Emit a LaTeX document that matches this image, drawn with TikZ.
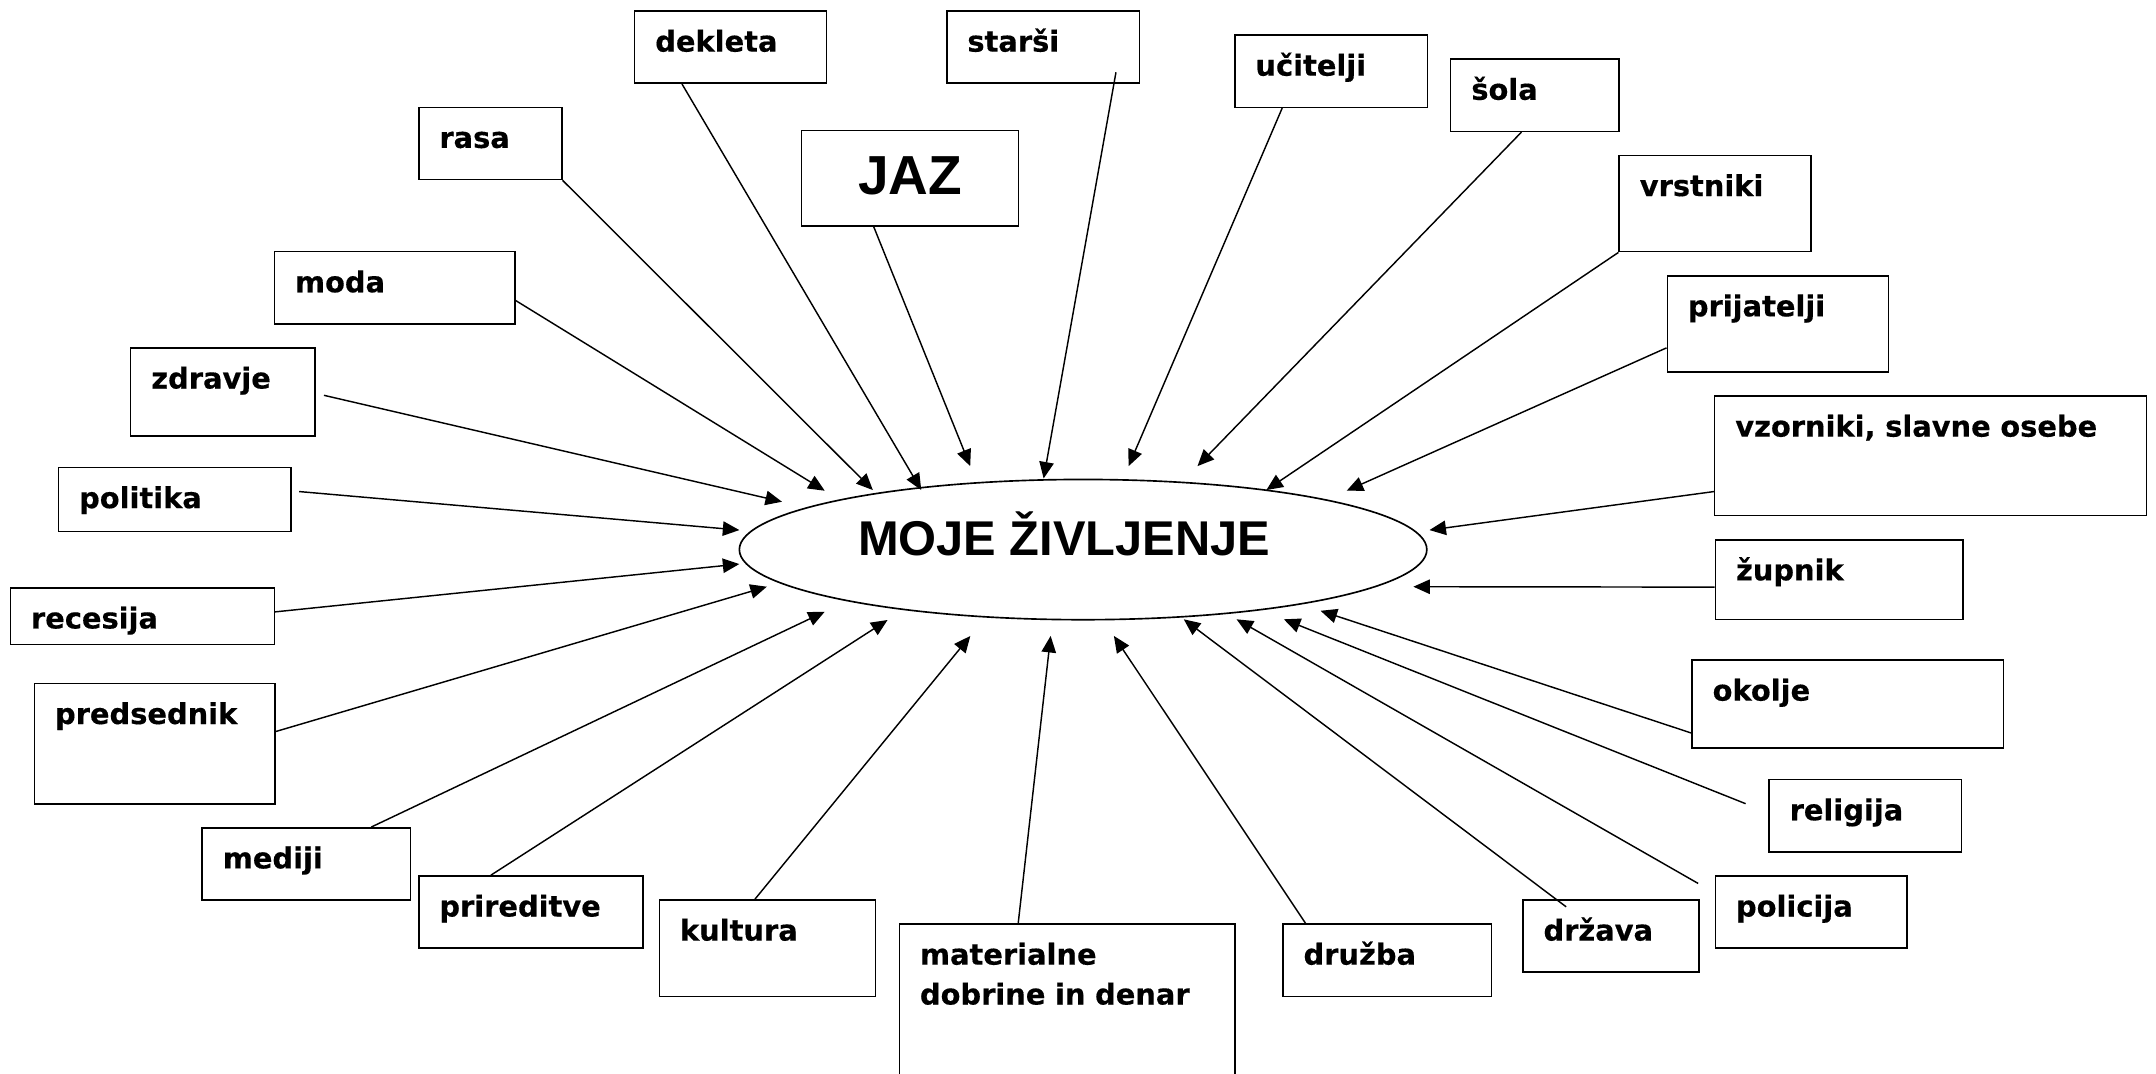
\documentclass[tikz,border=0pt]{standalone}
\usepackage{fontspec}
\newfontfamily\dejavu{DejaVu Sans}[BoldFeatures={FakeBold=0.4}]
\newfontfamily\arialfont{Liberation Sans}
\usetikzlibrary{arrows.meta}
\usetikzlibrary{shapes.geometric}
\tikzset{box/.style 2 args={draw,line width=1.1pt,anchor=north west,inner xsep=15pt,inner ysep=0pt,text width=#1pt,align=left,text height=29.5pt,text depth=#2pt,font=\dejavu\bfseries\fontsize{21}{29}\selectfont}}
\tikzset{jazbox/.style={draw,line width=1.1pt,minimum width=157.5pt,minimum height=69.5pt,inner sep=0pt,text height=28pt,text depth=5pt,font=\arialfont\bfseries\fontsize{40}{40}\selectfont}}
\tikzset{life/.style={draw,ellipse,line width=1.2pt,minimum width=500pt,minimum height=102pt,inner sep=0pt}}
\tikzset{title/.style={anchor=base,inner sep=0pt,font=\arialfont\bfseries\fontsize{35.5}{36}\selectfont}}
\tikzset{link/.style={line width=1.05pt,-{Triangle[length=12pt,width=10.5pt]}}}

\begin{document}
\begin{tikzpicture}[x=1pt,y=-1pt]
  \useasboundingbox (0,0) rectangle (1568,780.4);

  % Centre
  \node[life] (zivljenje) at (787.7,399.7) {};
  \node[title] (naslov) at (774,404) {MOJE ŽIVLJENJE};
  \node[jazbox] (jaz) at (661.8,129.8) {JAZ};

  % Boxes
  \node[box={109.5}{23}] (dekleta) at (461,7.5) {dekleta};
  \node[box={110}{23}] (starsi) at (688,7.5) {starši};
  \node[box={74}{23}] (rasa) at (304,77.5) {rasa};
  \node[box={110}{23}] (ucitelji) at (897.5,25) {učitelji};
  \node[box={92.5}{23}] (sola) at (1054.5,42.5) {šola};
  \node[box={109.5}{40.5}] (vrstniki) at (1177,112.5) {vrstniki};
  \node[box={145}{23}] (moda) at (199,182.5) {moda};
  \node[box={131}{40.5}] (prijatelji) at (1212,200) {prijatelji};
  \node[box={104}{34.5}] (zdravje) at (94.5,252.5) {zdravje};
  \node[box={284}{57.5}] (vzorniki) at (1246.5,287.5) {vzorniki, slavne osebe};
  \node[box={139}{17}] (politika) at (42,339.5) {politika};
  \node[box={150}{28.5}] (zupnik) at (1247,392) {župnik};
  \node[box={162}{11.5}] (recesija) at (7,427) {recesija};
  \node[box={145}{58}] (predsednik) at (24.5,496.5) {predsednik};
  \node[box={196.5}{34.5}] (okolje) at (1230,479.5) {okolje};
  \node[box={110}{23}] (religija) at (1286,566.5) {religija};
  \node[box={121.5}{23}] (mediji) at (146.5,601.5) {mediji};
  \node[box={133}{23}] (prireditve) at (304,636.5) {prireditve};
  \node[box={109.5}{23}] (policija) at (1247,636.5) {policija};
  \node[box={127}{40.5}] (kultura) at (479,654) {kultura};
  \node[box={214}{100.5}] (materialne) at (653.5,671.5) {materialne\\dobrine in denar};
  \node[box={121.5}{23}] (druzba) at (932.5,671.5) {družba};
  \node[box={98}{23}] (drzava) at (1107,654) {država};

  % Arrow tips
  \foreach \n/\x/\y in {dekleta/670/356.4, starsi/759/348, rasa/634.8/356.4, jaz/705.6/339,
    moda/599.8/356.9, zdravje/568.7/364.9, politika/537.7/385.5, recesija/537.7/410.2,
    predsednik/557.7/426.7, mediji/599.8/444.9, prireditve/645.5/450.9, kultura/705.7/462.5,
    materialne/764.1/462.5, druzba/810.1/462.5, drzava/860.9/450.4, policija/899.3/450.4,
    religija/933.7/450.4, okolje/960.4/444.2, zupnik/1027.9/426.7, vzorniki/1039.6/385.5,
    prijatelji/979.4/356.9, vrstniki/921/356.4, sola/870.9/339, ucitelji/820.8/339}
    \coordinate (t\n) at (\x,\y);

  % Arrows
  \draw[link] ([xshift=35pt]dekleta.south west) -- (tdekleta);
  \draw[link] ([xshift=-17.5pt,yshift=8.5pt]starsi.south east) -- (tstarsi);
  \draw[link] (rasa.south east) -- (trasa);
  \draw[link] ([xshift=53pt]jaz.south west) -- (tjaz);
  \draw[link] ([yshift=17.5pt]moda.south east) -- (tmoda);
  \draw[link] ([xshift=6pt,yshift=-35pt]zdravje.north east) -- (tzdravje);
  \draw[link] ([xshift=5.5pt,yshift=-18pt]politika.north east) -- (tpolitika);
  \draw[link] ([yshift=-18pt]recesija.north east) -- (trecesija);
  \draw[link] ([yshift=-35.5pt]predsednik.north east) -- (tpredsednik);
  \draw[link] ([xshift=123.5pt]mediji.north west) -- (tmediji);
  \draw[link] ([xshift=53pt]prireditve.north west) -- (tprireditve);
  \draw[link] ([xshift=70pt]kultura.north west) -- (tkultura);
  \draw[link] ([xshift=87pt]materialne.north west) -- (tmaterialne);
  \draw[link] ([xshift=17pt]druzba.north west) -- (tdruzba);
  \draw[link] ([xshift=32pt,yshift=-5.5pt]drzava.north west) -- (tdrzava);
  \draw[link] ([xshift=-12pt,yshift=-6pt]policija.north west) -- (tpolicija);
  \draw[link] ([xshift=-16.5pt,yshift=-18pt]religija.north west) -- (treligija);
  \draw[link] ([yshift=11.5pt]okolje.south west) -- (tokolje);
  \draw[link] ([yshift=-35pt]zupnik.north west) -- (tzupnik);
  \draw[link] ([yshift=-70pt]vzorniki.north west) -- (tvzorniki);
  \draw[link] ([yshift=-53pt]prijatelji.north west) -- (tprijatelji);
  \draw[link] (vrstniki.south west) -- (tvrstniki);
  \draw[link] ([xshift=52pt]sola.south west) -- (tsola);
  \draw[link] ([xshift=35pt]ucitelji.south west) -- (tucitelji);
\end{tikzpicture}
\end{document}
